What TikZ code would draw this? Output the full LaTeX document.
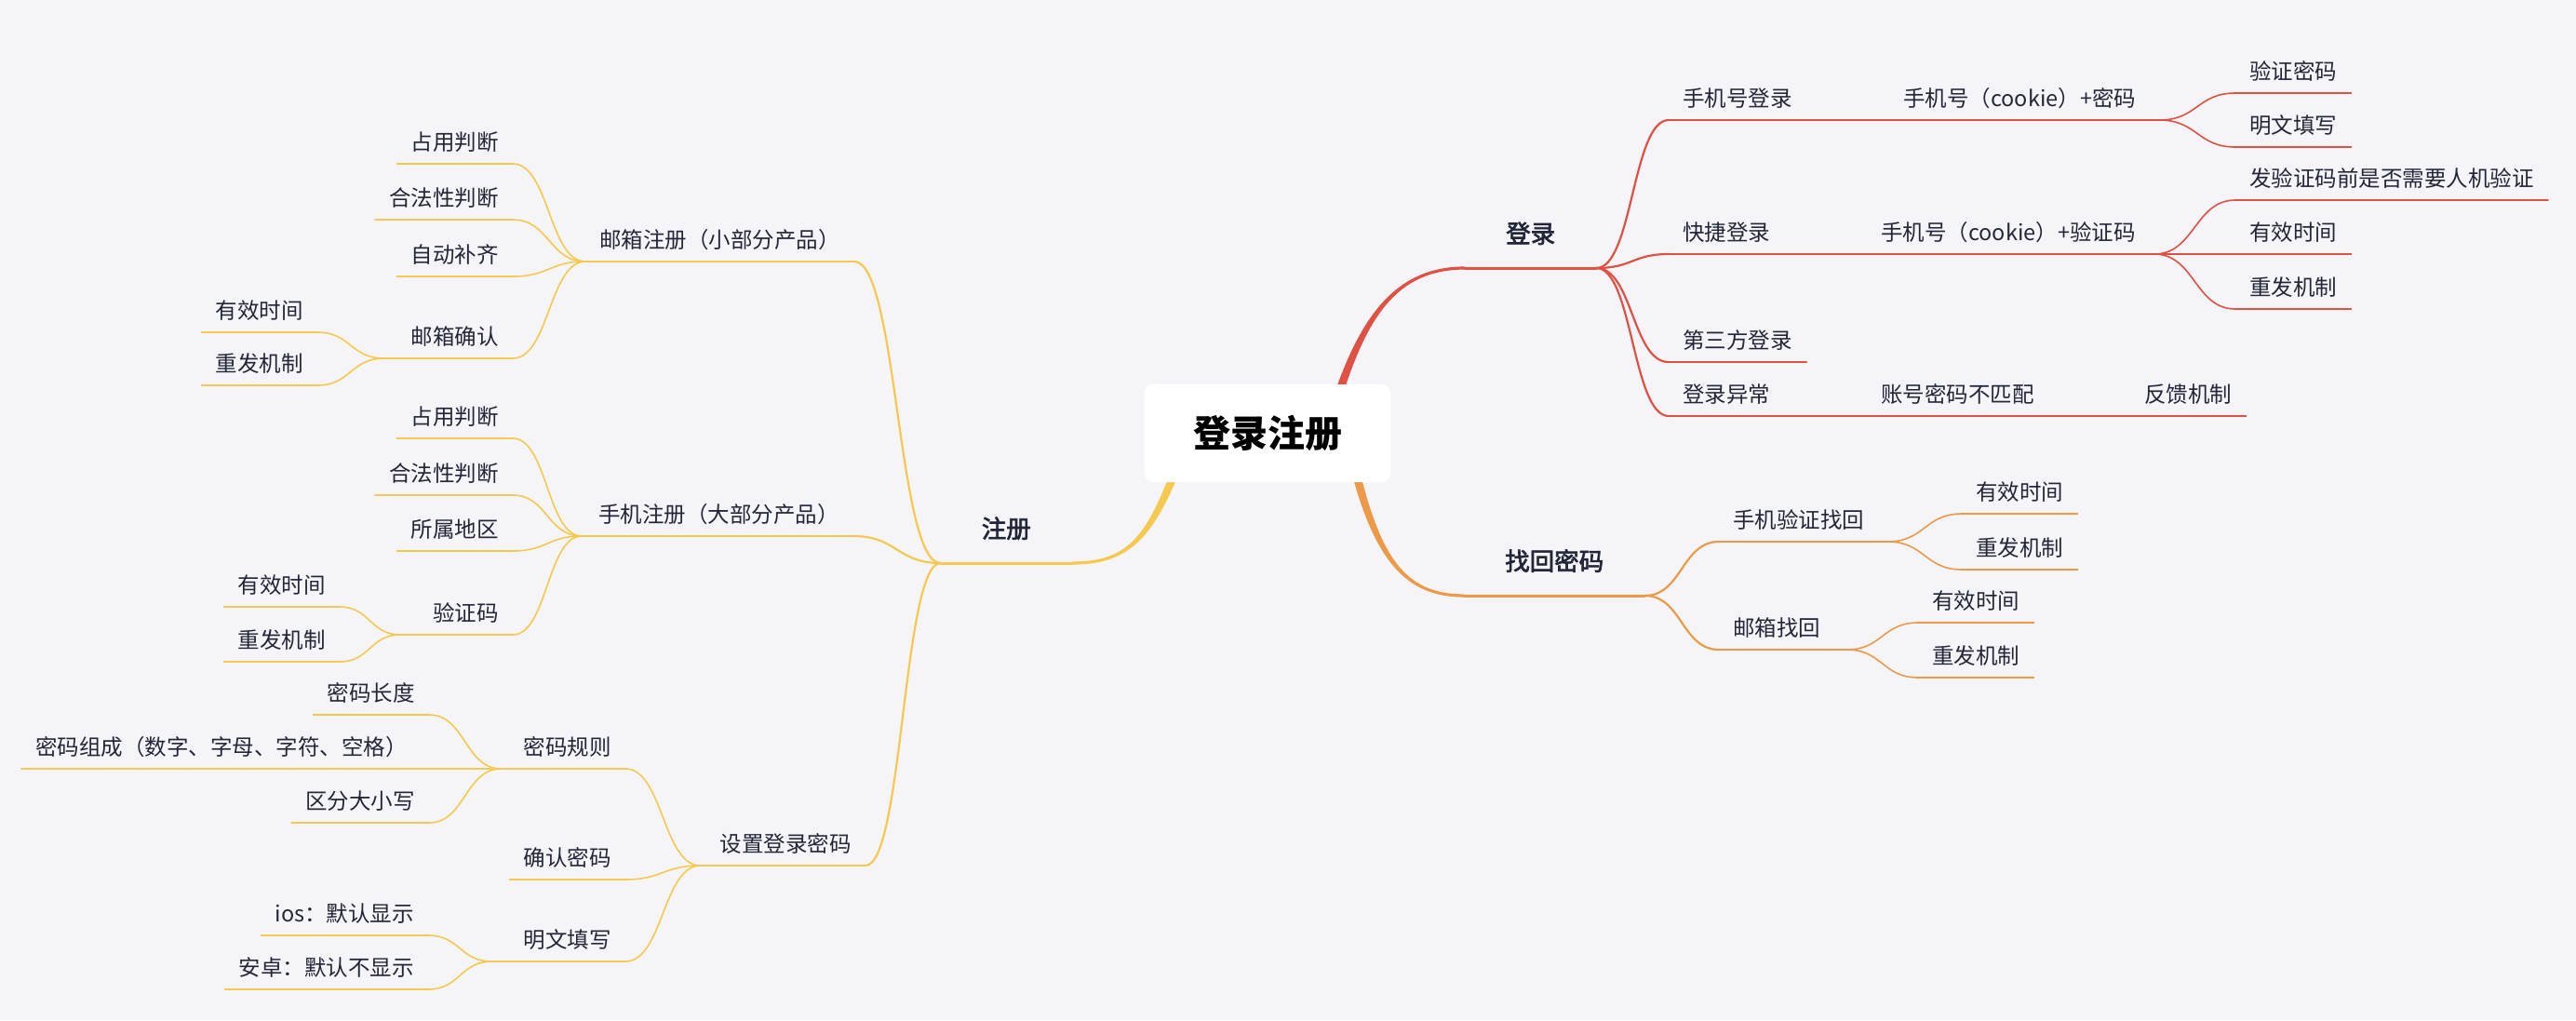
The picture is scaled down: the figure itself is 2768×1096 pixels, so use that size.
\documentclass[tikz,border=0pt]{standalone}
\usepackage{fontspec}
\setmainfont{Noto Sans CJK SC}
\newfontfamily\medfont{Noto Sans CJK SC}[FakeBold=2.5]
\usetikzlibrary{calc}
\definecolor{bg}{HTML}{F5F5F9}
\definecolor{cR}{HTML}{DF5142}
\definecolor{cO}{HTML}{EC9A48}
\definecolor{cY}{HTML}{F5C94F}
\definecolor{ink}{HTML}{222638}
\newcommand\topicline[3]{\draw[#2,line width=#3pt] (#1.south west) -- (#1.south east);}
\newcommand\branchto[4]{\draw[#3,line width=#4pt] (#1) .. controls ($(#1)!0.5!(#1-|#2)$) and ($(#2)!0.5!(#2-|#1)$) .. (#2);}
\newcommand\padx[1]{\hspace*{#1pt}}
\begin{document}
\begin{tikzpicture}[x=1pt,y=-1pt,line cap=round,
  topic/.style={inner xsep=15pt, inner ysep=0pt, text height=20pt, text depth=14pt,
    font=\fontsize{23.5pt}{28pt}\selectfont, text=ink},
  major/.style={inner xsep=44pt, inner ysep=0pt, text height=24pt, text depth=27pt,
    font=\medfont\fontsize{26.5pt}{30pt}\selectfont, text=ink},
  rootbox/.style={fill=white, rounded corners=10pt, minimum width=265pt, minimum height=105pt,
    inner sep=0pt, font=\fontsize{40pt}{48pt}\selectfont\bfseries, text=black}]
\fill[bg] (0,0) rectangle (2768,1096);
\useasboundingbox (0,0) rectangle (2768,1096);

% ---------- root position and main topics ----------
\coordinate (rc) at (1362,465.5);
\coordinate (rootR) at ($(rc)+(74,-35)$);
\coordinate (rootO) at ($(rc)+(93,35)$);
\coordinate (rootY) at ($(rc)+(-97,35)$);

\node[major,anchor=south west] (dl) at (1574,288) {登录};
\node[major,anchor=south west] (zh) at (1573,640) {找回密码};
\node[major,anchor=south east] (zc) at (1152,605) {注册};

% ---------- level 2 ----------
\node[topic,anchor=south west] (sjdl) at (1793,129) {手机号登录};
\node[topic,anchor=south west] (kjdl) at (1793,273) {快捷登录};
\node[topic,anchor=south west] (dsf)  at (1793,389) {第三方登录};
\node[topic,anchor=south west] (dlyc) at (1793,447) {登录异常};
\node[topic,anchor=south west] (sjyz) at (1847,582) {手机验证找回\padx{10}};
\node[topic,anchor=south west] (yxzh) at (1847,698) {邮箱找回\padx{13}};
\node[topic,anchor=south east] (yxzc) at (918,281) {邮箱注册（小部分产品）};
\node[topic,anchor=south east] (sjzc) at (917,576) {\padx{3}手机注册（大部分产品）};
\node[topic,anchor=south east] (szmm) at (930,930) {\padx{6}设置登录密码};

% ---------- level 3 right ----------
\node[topic,anchor=south west] (ckmm) at (2030,129) {手机号（cookie）+密码\padx{10}};
\node[topic,anchor=south west] (ckyz) at (2006,273) {手机号（cookie）+验证码\padx{5}};
\node[topic,anchor=south west] (zhbp) at (2006,447) {账号密码不匹配};
\node[topic,anchor=south west] (zy1) at (2108,552) {有效时间};
\node[topic,anchor=south west] (zc1) at (2108,612) {重发机制};
\node[topic,anchor=south west] (zy2) at (2061,669) {有效时间};
\node[topic,anchor=south west] (zc2) at (2061,728) {重发机制};

% ---------- level 4 right ----------
\node[topic,anchor=south west] (yzmm)  at (2402,100) {验证密码};
\node[topic,anchor=south west] (mwtx1) at (2402,158) {明文填写};
\node[topic,anchor=south west] (rjyz)  at (2402,215) {发验证码前是否需要人机验证};
\node[topic,anchor=south west] (yxsj1) at (2402,273) {有效时间};
\node[topic,anchor=south west] (cfjz1) at (2402,332) {重发机制};
\node[topic,anchor=south west] (fkjz)  at (2289,447) {反馈机制};

% ---------- level 3 left ----------
\node[topic,anchor=south east] (zy3)  at (551,176) {占用判断};
\node[topic,anchor=south east] (hf1)  at (551,236) {合法性判断};
\node[topic,anchor=south east] (zdbq) at (551,297) {自动补齐};
\node[topic,anchor=south east] (yxqr) at (551,385) {\padx{14}邮箱确认};
\node[topic,anchor=south east] (zy4)  at (551,471) {占用判断};
\node[topic,anchor=south east] (hf2)  at (551,532) {合法性判断};
\node[topic,anchor=south east] (ssdq) at (551,592) {所属地区};
\node[topic,anchor=south east] (yzm)  at (551,682) {\padx{20}验证码};
\node[topic,anchor=south east] (mmgz) at (672,826) {\padx{9}密码规则};
\node[topic,anchor=south east] (qrmm) at (672,945) {确认密码};
\node[topic,anchor=south east] (mwtx2) at (672,1033) {\padx{19}明文填写};

% ---------- level 4 left ----------
\node[topic,anchor=south east] (yx3)  at (341,357) {有效时间};
\node[topic,anchor=south east] (cf3)  at (341,414) {重发机制};
\node[topic,anchor=south east] (yx4)  at (365,652) {有效时间};
\node[topic,anchor=south east] (cf4)  at (365,711) {重发机制};
\node[topic,anchor=south east] (mmcd) at (461,768) {密码长度};
\node[topic,anchor=south east] (mmzc) at (453,826) {密码组成（数字、字母、字符、空格）};
\node[topic,anchor=south east] (qfdx) at (461,884) {区分大小写};
\node[topic,anchor=south east] (ios)  at (460,1005) {ios：默认显示};
\node[topic,anchor=south east] (az)   at (460,1063) {安卓：默认不显示};

% ---------- tapered main branches ----------
\fill[cR] ($(rootR)+(4.3,1.4)$) .. controls ($(rootR)+(32.3,-88.9)$) and ($(dl.south west)+(-74,1.6)$) .. ($(dl.south west)+(0,1.6)$)
  -- ($(dl.south west)+(0,-1.6)$) .. controls ($(dl.south west)+(-74,-1.6)$) and ($(rootR)+(25.7,-91.1)$) .. ($(rootR)+(-4.3,-1.4)$) -- cycle;
\fill[cO] ($(rootO)+(-4.4,1.1)$) .. controls ($(rootO)+(21.6,100.9)$) and ($(zh.south west)+(-63,1.6)$) .. ($(zh.south west)+(0,1.6)$)
  -- ($(zh.south west)+(0,-1.6)$) .. controls ($(zh.south west)+(-63,-1.6)$) and ($(rootO)+(28.4,99.2)$) .. ($(rootO)+(4.4,-1.1)$) -- cycle;
\fill[cY] ($(rootY)+(4.2,1.6)$) .. controls ($(rootY)+(-26.7,81.2)$) and ($(zc.south east)+(58,1.6)$) .. ($(zc.south east)+(0,1.6)$)
  -- ($(zc.south east)+(0,-1.6)$) .. controls ($(zc.south east)+(58,-1.6)$) and ($(rootY)+(-33.3,78.8)$) .. ($(rootY)+(-4.2,-1.6)$) -- cycle;

% ---------- red: 登录 ----------
\topicline{dl}{cR}{3}
\foreach \c in {sjdl,kjdl,dsf,dlyc}{\branchto{dl.south east}{\c.south west}{cR}{2.2}\topicline{\c}{cR}{2.8}}
\branchto{sjdl.south east}{ckmm.south west}{cR}{1.6}
\branchto{kjdl.south east}{ckyz.south west}{cR}{1.6}
\branchto{dlyc.south east}{zhbp.south west}{cR}{1.6}
\foreach \n in {ckmm,ckyz,zhbp}{\topicline{\n}{cR}{1.7}}
\foreach \c in {yzmm,mwtx1}{\branchto{ckmm.south east}{\c.south west}{cR}{1.6}\topicline{\c}{cR}{1.7}}
\foreach \c in {rjyz,yxsj1,cfjz1}{\branchto{ckyz.south east}{\c.south west}{cR}{1.6}\topicline{\c}{cR}{1.7}}
\branchto{zhbp.south east}{fkjz.south west}{cR}{1.6}\topicline{fkjz}{cR}{1.7}

% ---------- orange: 找回密码 ----------
\topicline{zh}{cO}{3}
\foreach \c in {sjyz,yxzh}{\branchto{zh.south east}{\c.south west}{cO}{2.2}\topicline{\c}{cO}{2.8}}
\foreach \c in {zy1,zc1}{\branchto{sjyz.south east}{\c.south west}{cO}{1.6}\topicline{\c}{cO}{1.7}}
\foreach \c in {zy2,zc2}{\branchto{yxzh.south east}{\c.south west}{cO}{1.6}\topicline{\c}{cO}{1.7}}

% ---------- yellow: 注册 ----------
\topicline{zc}{cY}{3}
\foreach \c in {yxzc,sjzc,szmm}{\branchto{zc.south west}{\c.south east}{cY}{2.2}\topicline{\c}{cY}{2.8}}
\foreach \c in {zy3,hf1,zdbq,yxqr}{\branchto{yxzc.south west}{\c.south east}{cY}{1.6}\topicline{\c}{cY}{1.8}}
\foreach \c in {yx3,cf3}{\branchto{yxqr.south west}{\c.south east}{cY}{1.6}\topicline{\c}{cY}{1.7}}
\foreach \c in {zy4,hf2,ssdq,yzm}{\branchto{sjzc.south west}{\c.south east}{cY}{1.6}\topicline{\c}{cY}{1.8}}
\foreach \c in {yx4,cf4}{\branchto{yzm.south west}{\c.south east}{cY}{1.6}\topicline{\c}{cY}{1.7}}
\foreach \c in {mmgz,qrmm,mwtx2}{\branchto{szmm.south west}{\c.south east}{cY}{1.6}\topicline{\c}{cY}{1.8}}
\foreach \c in {mmcd,mmzc,qfdx}{\branchto{mmgz.south west}{\c.south east}{cY}{1.6}\topicline{\c}{cY}{1.7}}
\foreach \c in {ios,az}{\branchto{mwtx2.south west}{\c.south east}{cY}{1.6}\topicline{\c}{cY}{1.7}}

% ---------- root box on top ----------
\node[rootbox] (root) at (rc) {登录注册};
\end{tikzpicture}
\end{document}
